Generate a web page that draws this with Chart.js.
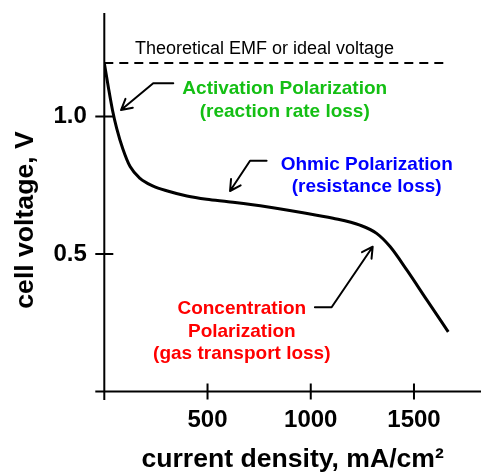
<!DOCTYPE html>
<html>
<head>
<meta charset="utf-8">
<script src="https://cdn.jsdelivr.net/npm/chart.js@4/dist/chart.umd.min.js"></script>
<style>
  html, body { margin: 0; padding: 0; background: #fff; }
  canvas { display: block; }
</style>
</head>
<body>
<canvas id="polarizationChart" width="481" height="473"></canvas>
<script>
// polarization curve: current density (mA/cm2) vs cell voltage (V)
var currentDensity = [0, 20, 40, 60, 90, 125, 173, 237, 302, 400, 496, 600, 786, 948, 1108, 1238, 1319, 1384, 1465, 1562, 1666];
var cellVoltage = [1.195, 1.105, 1.022, 0.957, 0.882, 0.818, 0.775, 0.747, 0.730, 0.711, 0.699, 0.690, 0.672, 0.652, 0.630, 0.605, 0.575, 0.527, 0.442, 0.333, 0.217];

// theoretical EMF line
var idealVoltage = 1.195;
var idealRange = [0, 1670];

var xTickValues = [0, 500, 1000, 1500];
var yTickValues = [0.5, 1.0];

// text labels and their arrows, in data units
var notes = [
    { lines: ['Theoretical EMF or ideal voltage'], x: 776, y: 1.227, color: '#000', bold: false, size: 18 },
    { lines: ['Activation Polarization', '(reaction rate loss)'], x: 874, y: 1.081, color: '#14bf14', bold: true, size: 19 },
    { lines: ['Ohmic Polarization', '(resistance loss)'], x: 1271, y: 0.807, color: '#0000ff', bold: true, size: 19 },
    { lines: ['Concentration', 'Polarization', '(gas transport loss)'], x: 666, y: 0.282, color: '#ff0000', bold: true, size: 19 }
];
var arrows = [
    [[334, 1.1207], [237, 1.1207], [81, 1.0236]],
    [[786, 0.8393], [706, 0.8393], [609, 0.7291]],
    [[1020, 0.3062], [1101, 0.3062], [1300, 0.5265]]
];

var FONT = '"Liberation Sans", Arial, Helvetica, sans-serif';
Chart.defaults.font.family = FONT;
Chart.defaults.color = '#000';

var axesAndNotes = {
    id: 'axesAndNotes',
    beforeDatasetsDraw: function(chart) {
        var ctx = chart.ctx;
        var xs = chart.scales.x, ys = chart.scales.y;
        var x0 = xs.getPixelForValue(0), y0 = ys.getPixelForValue(0);
        ctx.save();
        ctx.strokeStyle = '#000';
        ctx.lineWidth = 2;
        ctx.beginPath();
        ctx.moveTo(x0 - 9, y0);
        ctx.lineTo(chart.width, y0);
        ctx.moveTo(x0, chart.chartArea.top);
        ctx.lineTo(x0, y0 + 8.5);
        xTickValues.forEach(function(v) {
            if (v === 0) return;
            var px = xs.getPixelForValue(v);
            ctx.moveTo(px, y0 - 8);
            ctx.lineTo(px, y0 + 8);
        });
        yTickValues.forEach(function(v) {
            var py = ys.getPixelForValue(v);
            ctx.moveTo(x0 - 9, py);
            ctx.lineTo(x0 + 9, py);
        });
        ctx.stroke();
        ctx.restore();
    },
    afterDatasetsDraw: function(chart) {
        var ctx = chart.ctx;
        var xs = chart.scales.x, ys = chart.scales.y;
        ctx.save();
        notes.forEach(function(n) {
            ctx.font = (n.bold ? 'bold ' : '') + n.size + 'px ' + FONT;
            ctx.fillStyle = n.color;
            ctx.textAlign = 'center';
            ctx.textBaseline = 'alphabetic';
            var px = xs.getPixelForValue(n.x), py = ys.getPixelForValue(n.y);
            n.lines.forEach(function(line, i) {
                ctx.fillText(line, px, py + i * 22.7);
            });
        });

        ctx.strokeStyle = '#000';
        ctx.lineWidth = 2;
        ctx.lineCap = 'round';
        ctx.lineJoin = 'round';
        arrows.forEach(function(path) {
            var pts = path.map(function(p) {
                return [xs.getPixelForValue(p[0]), ys.getPixelForValue(p[1])];
            });
            ctx.beginPath();
            ctx.moveTo(pts[0][0], pts[0][1]);
            for (var i = 1; i < pts.length; i++) ctx.lineTo(pts[i][0], pts[i][1]);
            var tip = pts[pts.length - 1], prev = pts[pts.length - 2];
            var ang = Math.atan2(prev[1] - tip[1], prev[0] - tip[0]);
            var spread = 0.5, len = 12;
            ctx.moveTo(tip[0] + len * Math.cos(ang - spread), tip[1] + len * Math.sin(ang - spread));
            ctx.lineTo(tip[0], tip[1]);
            ctx.lineTo(tip[0] + len * Math.cos(ang + spread), tip[1] + len * Math.sin(ang + spread));
            ctx.stroke();
        });
        ctx.restore();
    }
};

var ctx = document.getElementById('polarizationChart').getContext('2d');
var polarizationChart = new Chart(ctx, {
    type: 'line',
    data: {
        datasets: [{
            data: currentDensity.map(function(x, i) { return { x: x, y: cellVoltage[i] }; }),
            borderColor: '#000',
            borderWidth: 3,
            pointRadius: 0,
            cubicInterpolationMode: 'monotone',
            fill: false
        }, {
            data: idealRange.map(function(x) { return { x: x, y: idealVoltage }; }),
            borderColor: '#000',
            borderWidth: 2,
            borderDash: [9, 6],
            pointRadius: 0,
            fill: false
        }]
    },
    plugins: [axesAndNotes],
    options: {
        responsive: false,
        animation: false,
        devicePixelRatio: 1,
        layout: { padding: { top: 13, bottom: 46, left: 0, right: 0 } },
        plugins: {
            legend: { display: false },
            tooltip: { enabled: false }
        },
        scales: {
            x: {
                type: 'linear',
                position: { y: 0 },
                min: 0,
                max: 1824.6,
                grid: { display: false, drawTicks: false },
                border: { display: false },
                afterBuildTicks: function(scale) {
                    scale.ticks = xTickValues.map(function(v) { return { value: v }; });
                },
                ticks: {
                    padding: 14,
                    maxRotation: 0,
                    autoSkip: false,
                    font: { size: 24, weight: 'bold' },
                    callback: function(v) { return v === 0 ? '' : v; }
                },
                title: {
                    display: true,
                    text: 'current density, mA/cm²',
                    font: { size: 26.6, weight: 'bold', lineHeight: 1 },
                    padding: { top: -2, bottom: 0 }
                }
            },
            y: {
                type: 'linear',
                position: 'left',
                min: -0.1291,
                max: 1.3764,
                grid: { display: false, drawTicks: false },
                border: { display: false },
                afterFit: function(scale) {
                    scale.width = 104.3;
                    scale.paddingTop = 0;
                    scale.paddingBottom = 0;
                },
                afterBuildTicks: function(scale) {
                    scale.ticks = yTickValues.map(function(v) { return { value: v }; });
                },
                ticks: {
                    padding: 17.5,
                    font: { size: 24, weight: 'bold' },
                    callback: function(v) { return v.toFixed(1); }
                },
                title: {
                    display: true,
                    text: 'cell voltage, V',
                    font: { size: 26.6, weight: 'bold', lineHeight: 1 },
                    padding: { top: 12, bottom: 0 }
                }
            }
        }
    }
});
</script>
</body>
</html>
